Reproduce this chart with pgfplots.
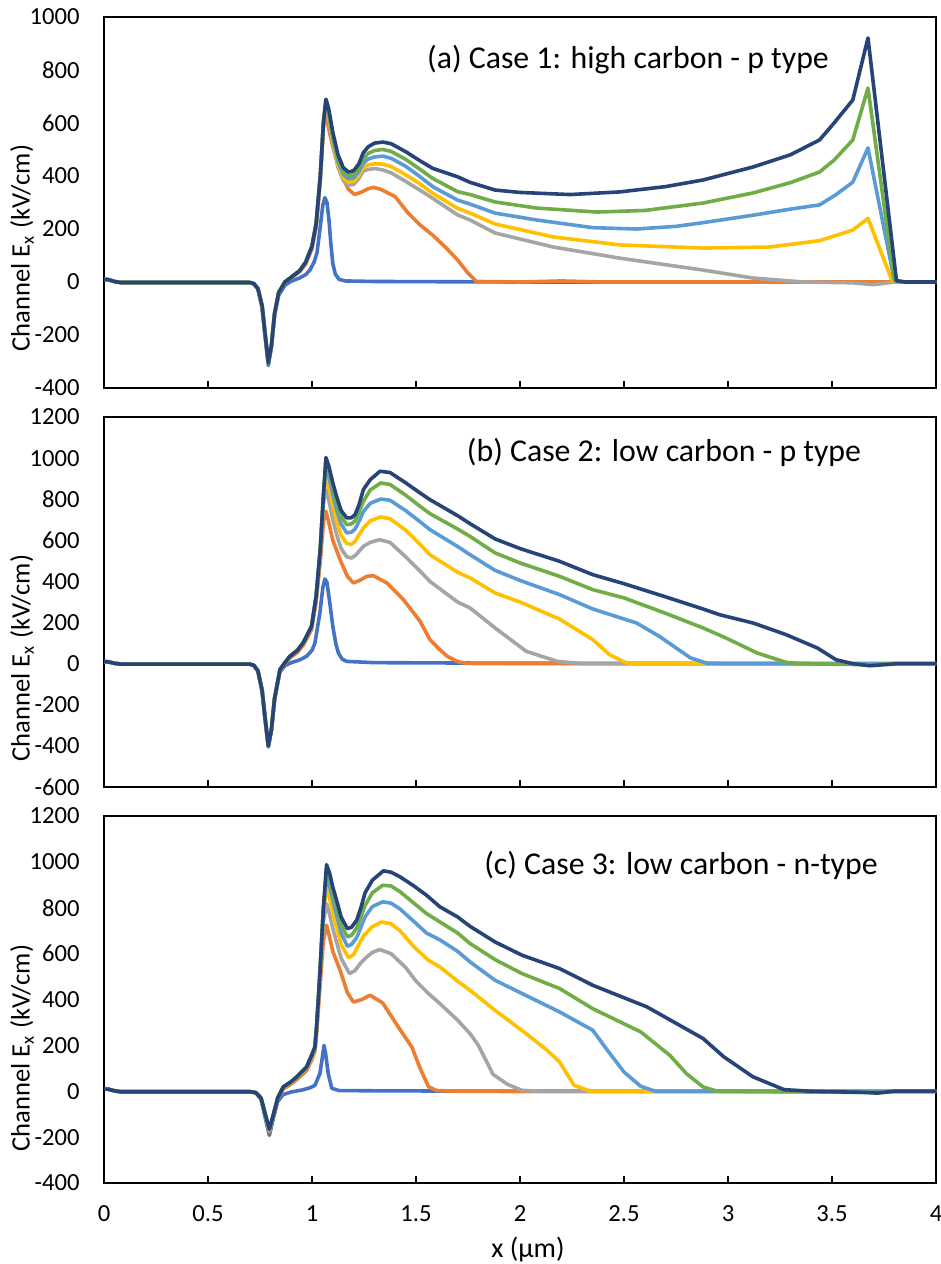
\documentclass[border=0pt]{standalone}
\usepackage{fontspec}
\setmainfont{Carlito}
\usepackage{pgfplots}
\pgfplotsset{compat=1.18}
\definecolor{cBlue}{HTML}{4472C4}
\definecolor{cOrange}{HTML}{ED7D31}
\definecolor{cGray}{HTML}{A5A5A5}
\definecolor{cYellow}{HTML}{FFC000}
\definecolor{cLBlue}{HTML}{5B9BD5}
\definecolor{cGreen}{HTML}{70AD47}
\definecolor{cNavy}{HTML}{264478}
\pgfplotsset{
  myax/.style={
    scale only axis, width=416pt,
    xmin=0, xmax=4,
    xtick={0,0.5,1,1.5,2,2.5,3,3.5,4},
    xtick pos=bottom, xtick align=inside,
    major tick length=3.5pt,
    ytick style={draw=none},
    axis line style={line width=0.9pt, black},
    xtick style={line width=0.9pt, black},
    ticklabel style={font=\fontsize{12.3}{14}\selectfont},
    yticklabel style={inner sep=0pt, xshift=-12pt},
    xticklabel style={inner sep=0pt, yshift=-11pt},
    /pgf/number format/assume math mode=true,
    /pgf/number format/1000 sep={},
    every axis plot/.append style={line width=1.8pt, line join=round, mark=none},
  },
}
\begin{document}
\begin{tikzpicture}
\useasboundingbox (0,0) rectangle (470.5pt,-632pt);
% ---------------- (a) ----------------
\begin{axis}[myax, at={(52pt,-8.5pt)}, anchor=north west, height=185.5pt,
  ymin=-400, ymax=1000, ytick={-400,-200,0,200,400,600,800,1000}, xticklabels={}]
\addplot[cBlue] coordinates {(0,10) (0.02,9) (0.05,2) (0.08,-2) (0.7,-2) (0.72,-6) (0.74,-25) (0.76,-95) (0.775,-210) (0.79,-315) (0.805,-245) (0.82,-125) (0.84,-50) (0.87,-12) (0.9,3) (0.94,15) (0.97,28) (0.99,45) (1.01,75) (1.024,110) (1.04,210) (1.052,290) (1.062,318) (1.072,300) (1.082,230) (1.09,150) (1.1,70) (1.112,30) (1.13,10) (1.16,4) (1.3,2) (2,0) (4,0)};
\addplot[cOrange] coordinates {(0,10) (0.02,9) (0.05,2) (0.08,-2) (0.3,-2) (0.7,-2) (0.72,-6) (0.74,-25) (0.76,-90) (0.775,-200) (0.79,-305) (0.805,-240) (0.82,-120) (0.84,-40) (0.87,0) (0.9,15) (0.94,38) (0.97,68) (1.0,125) (1.02,205) (1.04,380) (1.055,580) (1.067,655) (1.08,580) (1.1,510) (1.12,455) (1.15,390) (1.175,350) (1.205,330) (1.24,340) (1.27,352) (1.295,357) (1.33,350) (1.4,322) (1.46,262) (1.52,215) (1.55,196) (1.58,177) (1.615,151) (1.65,125) (1.7,83) (1.745,38) (1.79,2) (2.0,0) (2.2,4) (2.4,0) (4,0)};
\addplot[cGray] coordinates {(0,10) (0.02,9) (0.05,2) (0.08,-2) (0.3,-2) (0.7,-2) (0.72,-6) (0.74,-25) (0.76,-90) (0.775,-200) (0.79,-305) (0.805,-240) (0.82,-120) (0.84,-40) (0.87,0) (0.9,18) (0.94,42) (0.97,75) (1.0,135) (1.02,220) (1.04,400) (1.055,600) (1.067,672) (1.08,618) (1.1,522) (1.125,432) (1.15,383) (1.175,366) (1.2,368) (1.225,390) (1.246,418) (1.27,425) (1.3,428) (1.34,423) (1.38,412) (1.45,380) (1.52,346) (1.58,316) (1.7,253) (1.76,234) (1.88,185) (2.16,132) (2.48,90) (2.88,45) (3.12,15) (3.36,0) (3.6,-3) (3.7,-10) (3.8,0) (4,0)};
\addplot[cYellow] coordinates {(0,10) (0.02,9) (0.05,2) (0.08,-2) (0.3,-2) (0.7,-2) (0.72,-6) (0.74,-25) (0.76,-90) (0.775,-200) (0.79,-305) (0.805,-240) (0.82,-120) (0.84,-40) (0.87,0) (0.9,18) (0.94,42) (0.97,75) (1.0,135) (1.02,220) (1.04,400) (1.055,600) (1.067,680) (1.08,628) (1.1,532) (1.125,442) (1.15,393) (1.175,377) (1.2,380) (1.225,402) (1.246,432) (1.27,442) (1.3,446) (1.34,445) (1.38,436) (1.45,405) (1.52,370) (1.58,335) (1.7,278) (1.76,260) (1.88,219) (2.16,170) (2.48,140) (2.88,128) (3.2,132) (3.44,156) (3.6,196) (3.673,240) (3.79,3) (3.85,0) (4,0)};
\addplot[cLBlue] coordinates {(0,10) (0.02,9) (0.05,2) (0.08,-2) (0.3,-2) (0.7,-2) (0.72,-6) (0.74,-25) (0.76,-90) (0.775,-200) (0.79,-305) (0.805,-240) (0.82,-120) (0.84,-40) (0.87,0) (0.9,18) (0.94,42) (0.97,75) (1.0,135) (1.02,220) (1.04,400) (1.055,600) (1.067,685) (1.08,638) (1.1,545) (1.125,455) (1.15,406) (1.175,390) (1.2,393) (1.225,416) (1.246,448) (1.27,464) (1.3,472) (1.34,475) (1.38,467) (1.45,437) (1.52,397) (1.58,360) (1.7,309) (1.76,294) (1.88,260) (2.08,234) (2.35,205) (2.56,200) (2.75,210) (2.88,224) (3.12,252) (3.3,275) (3.44,291) (3.52,330) (3.6,377) (3.673,506) (3.8,5) (3.85,0) (4,0)};
\addplot[cGreen] coordinates {(0,10) (0.02,9) (0.05,2) (0.08,-2) (0.3,-2) (0.7,-2) (0.72,-6) (0.74,-25) (0.76,-90) (0.775,-200) (0.79,-305) (0.805,-240) (0.82,-120) (0.84,-40) (0.87,0) (0.9,18) (0.94,42) (0.97,75) (1.0,135) (1.02,220) (1.04,400) (1.055,600) (1.067,688) (1.08,645) (1.1,555) (1.125,468) (1.15,418) (1.175,402) (1.2,405) (1.225,430) (1.246,465) (1.27,485) (1.3,496) (1.34,500) (1.38,493) (1.45,463) (1.52,425) (1.58,391) (1.7,341) (1.76,330) (1.88,302) (2.08,279) (2.37,264) (2.6,270) (2.88,298) (3.12,336) (3.3,375) (3.44,415) (3.51,460) (3.6,536) (3.673,732) (3.8,5) (3.85,0) (4,0)};
\addplot[cNavy] coordinates {(0,10) (0.02,9) (0.05,2) (0.08,-2) (0.3,-2) (0.7,-2) (0.72,-6) (0.74,-25) (0.76,-90) (0.775,-200) (0.79,-305) (0.805,-240) (0.82,-120) (0.84,-40) (0.87,0) (0.9,18) (0.94,42) (0.97,75) (1.0,135) (1.02,220) (1.04,400) (1.055,600) (1.067,690) (1.08,655) (1.1,565) (1.125,480) (1.15,432) (1.175,415) (1.2,420) (1.225,445) (1.246,487) (1.27,510) (1.3,524) (1.34,528) (1.38,522) (1.45,492) (1.52,457) (1.58,429) (1.7,397) (1.76,376) (1.88,347) (2.0,338) (2.24,330) (2.48,340) (2.7,360) (2.88,385) (3.12,434) (3.3,480) (3.44,536) (3.51,600) (3.6,687) (3.673,921) (3.81,5) (3.85,0) (4,0)};
\end{axis}
% ---------------- (b) ----------------
\begin{axis}[myax, at={(52pt,-208.5pt)}, anchor=north west, height=185pt,
  ymin=-600, ymax=1200, ytick={-600,-400,-200,0,200,400,600,800,1000,1200}, xticklabels={}]
\addplot[cBlue] coordinates {(0,10) (0.02,9) (0.05,2) (0.08,-2) (0.7,-2) (0.72,-8) (0.74,-35) (0.76,-130) (0.775,-275) (0.79,-405) (0.805,-325) (0.82,-175) (0.846,-40) (0.87,-10) (0.9,5) (0.94,18) (0.974,36) (1.0,65) (1.014,100) (1.038,247) (1.052,370) (1.062,412) (1.072,395) (1.085,300) (1.1,182) (1.115,95) (1.127,52) (1.145,22) (1.167,11) (1.3,5) (2,2) (4,0)};
\addplot[cOrange] coordinates {(0,10) (0.02,9) (0.05,2) (0.08,-2) (0.7,-2) (0.72,-8) (0.74,-35) (0.76,-130) (0.775,-270) (0.79,-400) (0.805,-320) (0.82,-170) (0.846,-32) (0.87,0) (0.894,28) (0.93,55) (0.958,90) (0.998,165) (1.02,300) (1.04,500) (1.055,690) (1.067,741) (1.08,690) (1.1,600) (1.135,506) (1.17,425) (1.199,393) (1.23,405) (1.263,425) (1.295,428) (1.36,393) (1.44,311) (1.52,206) (1.567,117) (1.615,68) (1.65,36) (1.7,10) (1.74,2) (1.8,0) (4,0)};
\addplot[cGray] coordinates {(0,10) (0.02,9) (0.05,2) (0.08,-2) (0.7,-2) (0.72,-8) (0.74,-35) (0.76,-130) (0.775,-270) (0.79,-400) (0.805,-320) (0.82,-170) (0.846,-29) (0.87,5) (0.894,36) (0.93,65) (0.958,102) (0.998,182) (1.02,320) (1.04,540) (1.055,780) (1.067,847) (1.08,800) (1.1,700) (1.118,630) (1.14,560) (1.167,520) (1.19,514) (1.21,528) (1.247,571) (1.28,590) (1.325,603) (1.375,590) (1.45,520) (1.52,450) (1.567,400) (1.7,300) (1.76,271) (1.79,247) (1.88,174) (2.03,60) (2.18,11) (2.3,0) (4,0)};
\addplot[cYellow] coordinates {(0,10) (0.02,9) (0.05,2) (0.08,-2) (0.7,-2) (0.72,-8) (0.74,-35) (0.76,-130) (0.775,-270) (0.79,-400) (0.805,-320) (0.82,-170) (0.846,-29) (0.87,5) (0.894,36) (0.93,65) (0.958,102) (0.998,182) (1.02,325) (1.04,550) (1.055,800) (1.067,912) (1.08,865) (1.1,770) (1.118,695) (1.14,625) (1.167,585) (1.19,580) (1.207,595) (1.225,625) (1.247,660) (1.28,695) (1.33,714) (1.375,705) (1.45,650) (1.52,580) (1.567,530) (1.7,445) (1.76,417) (1.88,344) (2.0,300) (2.19,217) (2.35,117) (2.43,44) (2.51,4) (2.6,0) (4,0)};
\addplot[cLBlue] coordinates {(0,10) (0.02,9) (0.05,2) (0.08,-2) (0.7,-2) (0.72,-8) (0.74,-35) (0.76,-130) (0.775,-270) (0.79,-400) (0.805,-320) (0.82,-170) (0.846,-29) (0.87,5) (0.894,36) (0.93,65) (0.958,102) (0.998,182) (1.02,328) (1.04,560) (1.055,815) (1.067,960) (1.08,915) (1.1,825) (1.118,750) (1.14,680) (1.167,636) (1.19,640) (1.207,655) (1.225,690) (1.247,740) (1.28,780) (1.33,801) (1.375,795) (1.45,745) (1.52,690) (1.567,652) (1.7,570) (1.76,530) (1.88,454) (2.0,405) (2.19,336) (2.35,266) (2.56,198) (2.67,133) (2.82,28) (2.9,2) (3.0,0) (4,0)};
\addplot[cGreen] coordinates {(0,10) (0.02,9) (0.05,2) (0.08,-2) (0.7,-2) (0.72,-8) (0.74,-35) (0.76,-130) (0.775,-270) (0.79,-400) (0.805,-320) (0.82,-170) (0.846,-29) (0.87,5) (0.894,36) (0.93,65) (0.958,102) (0.998,182) (1.02,328) (1.04,560) (1.055,820) (1.067,990) (1.08,950) (1.1,860) (1.118,785) (1.14,715) (1.167,676) (1.19,680) (1.207,695) (1.225,735) (1.247,790) (1.28,845) (1.33,879) (1.375,872) (1.45,820) (1.52,765) (1.567,730) (1.7,655) (1.76,619) (1.88,539) (2.0,490) (2.19,425) (2.35,360) (2.5,320) (2.7,245) (2.88,174) (2.99,125) (3.14,52) (3.28,6) (3.35,0) (3.68,-5) (3.8,0) (4,0)};
\addplot[cNavy] coordinates {(0,10) (0.02,9) (0.05,2) (0.08,-2) (0.7,-2) (0.72,-8) (0.74,-35) (0.76,-130) (0.775,-270) (0.79,-400) (0.805,-320) (0.82,-170) (0.846,-29) (0.87,5) (0.894,36) (0.93,65) (0.958,102) (0.998,182) (1.02,328) (1.04,560) (1.055,820) (1.067,1003) (1.08,965) (1.1,880) (1.118,814) (1.14,745) (1.167,709) (1.19,710) (1.207,725) (1.225,770) (1.247,847) (1.28,895) (1.327,936) (1.375,930) (1.45,880) (1.52,830) (1.567,798) (1.7,720) (1.76,681) (1.88,607) (2.0,560) (2.19,498) (2.35,433) (2.5,389) (2.7,325) (2.88,266) (2.96,238) (3.12,198) (3.28,141) (3.43,76) (3.52,19) (3.6,0) (3.68,-10) (3.78,-3) (3.81,0) (4,0)};
\end{axis}
% ---------------- (c) ----------------
\begin{axis}[myax, at={(52pt,-408pt)}, anchor=north west, height=183.5pt,
  ymin=-400, ymax=1200, ytick={-400,-200,0,200,400,600,800,1000,1200}]
\addplot[cBlue] coordinates {(0,10) (0.02,9) (0.05,2) (0.08,-2) (0.7,-2) (0.73,-6) (0.755,-35) (0.775,-115) (0.795,-192) (0.815,-115) (0.835,-45) (0.86,-15) (0.9,-3) (0.95,5) (0.99,15) (1.014,26) (1.038,77) (1.05,150) (1.058,200) (1.066,160) (1.078,77) (1.095,13) (1.13,3) (1.3,2) (2,0) (4,0)};
\addplot[cOrange] coordinates {(0,10) (0.02,9) (0.05,2) (0.08,-2) (0.7,-2) (0.73,-6) (0.755,-30) (0.775,-105) (0.795,-178) (0.815,-105) (0.835,-35) (0.862,10) (0.9,32) (0.926,50) (0.974,90) (1.0,140) (1.014,175) (1.022,250) (1.038,450) (1.055,660) (1.07,724) (1.085,670) (1.1,610) (1.135,528) (1.17,430) (1.199,389) (1.24,400) (1.279,419) (1.34,385) (1.415,280) (1.48,193) (1.52,100) (1.56,20) (1.6,3) (1.7,0) (4,0)};
\addplot[cGray] coordinates {(0,10) (0.02,9) (0.05,2) (0.08,-2) (0.7,-2) (0.73,-6) (0.755,-30) (0.775,-100) (0.795,-172) (0.815,-100) (0.835,-30) (0.862,15) (0.9,38) (0.926,58) (0.974,100) (1.0,150) (1.014,185) (1.022,270) (1.038,490) (1.055,740) (1.07,818) (1.085,770) (1.1,710) (1.118,650) (1.14,580) (1.18,513) (1.205,525) (1.235,560) (1.255,579) (1.29,605) (1.325,618) (1.38,600) (1.45,540) (1.5,480) (1.56,426) (1.615,382) (1.7,310) (1.76,251) (1.8,200) (1.87,74) (1.94,30) (2.01,4) (2.1,0) (4,0)};
\addplot[cYellow] coordinates {(0,10) (0.02,9) (0.05,2) (0.08,-2) (0.7,-2) (0.73,-6) (0.755,-30) (0.775,-100) (0.795,-170) (0.815,-100) (0.835,-30) (0.862,18) (0.9,40) (0.926,60) (0.974,104) (1.0,155) (1.014,190) (1.022,275) (1.038,505) (1.055,780) (1.07,890) (1.085,840) (1.1,780) (1.118,715) (1.14,640) (1.175,583) (1.2,595) (1.225,640) (1.25,680) (1.29,718) (1.335,738) (1.38,730) (1.423,700) (1.49,630) (1.56,571) (1.615,542) (1.7,480) (1.76,440) (1.88,353) (2.03,251) (2.13,179) (2.19,128) (2.26,26) (2.34,0) (4,0)};
\addplot[cLBlue] coordinates {(0,10) (0.02,9) (0.05,2) (0.08,-2) (0.7,-2) (0.73,-6) (0.755,-30) (0.775,-100) (0.795,-168) (0.815,-100) (0.835,-30) (0.862,19) (0.9,42) (0.926,62) (0.974,106) (1.0,160) (1.014,193) (1.022,280) (1.038,513) (1.055,800) (1.07,940) (1.085,895) (1.1,835) (1.118,770) (1.14,690) (1.17,632) (1.19,640) (1.215,670) (1.235,715) (1.255,760) (1.29,805) (1.34,826) (1.38,820) (1.423,795) (1.49,740) (1.55,690) (1.615,660) (1.7,610) (1.76,564) (1.88,484) (2.01,426) (2.19,346) (2.35,266) (2.42,179) (2.5,84) (2.58,22) (2.65,0) (4,0)};
\addplot[cGreen] coordinates {(0,10) (0.02,9) (0.05,2) (0.08,-2) (0.7,-2) (0.73,-6) (0.755,-30) (0.775,-100) (0.795,-168) (0.815,-100) (0.835,-30) (0.862,19) (0.9,42) (0.926,62) (0.974,106) (1.0,160) (1.014,193) (1.022,280) (1.038,513) (1.055,800) (1.07,970) (1.085,925) (1.1,865) (1.118,805) (1.14,725) (1.17,673) (1.19,680) (1.215,712) (1.235,760) (1.255,810) (1.29,865) (1.34,898) (1.38,895) (1.423,870) (1.49,820) (1.55,775) (1.615,738) (1.7,690) (1.76,644) (1.88,574) (2.01,513) (2.19,448) (2.35,360) (2.58,259) (2.72,157) (2.8,77) (2.88,19) (2.95,0) (3.65,-5) (3.75,-5) (3.8,0) (4,0)};
\addplot[cNavy] coordinates {(0,10) (0.02,9) (0.05,2) (0.08,-2) (0.7,-2) (0.73,-6) (0.755,-30) (0.775,-100) (0.795,-165) (0.815,-100) (0.835,-30) (0.862,19) (0.9,42) (0.926,62) (0.974,106) (1.0,160) (1.014,193) (1.022,280) (1.038,513) (1.055,800) (1.07,988) (1.085,950) (1.1,890) (1.118,833) (1.14,760) (1.17,709) (1.19,715) (1.215,746) (1.235,800) (1.255,865) (1.29,920) (1.343,961) (1.38,955) (1.423,935) (1.49,895) (1.55,855) (1.615,804) (1.7,760) (1.76,719) (1.88,651) (2.01,593) (2.19,535) (2.35,462) (2.61,368) (2.88,230) (2.98,150) (3.12,63) (3.27,7) (3.4,0) (3.65,-5) (3.72,-8) (3.8,0) (4,0)};
\end{axis}
% ---------------- labels ----------------
\node[font=\fontsize{15.9}{18}\selectfont] at (314pt,-30pt) {(a) Case 1: high carbon - p type};
\node[font=\fontsize{15.9}{18}\selectfont] at (332pt,-226pt) {(b) Case 2: low carbon - p type};
\node[font=\fontsize{15.9}{18}\selectfont] at (340.5pt,-432.5pt) {(c) Case 3: low carbon - n-type};
\node[rotate=90, font=\fontsize{13.3}{15}\selectfont] at (11pt,-124pt) {Channel E\textsubscript{x} (kV/cm)};
\node[rotate=90, font=\fontsize{13.3}{15}\selectfont] at (11pt,-329pt) {Channel E\textsubscript{x} (kV/cm)};
\node[rotate=90, font=\fontsize{13.3}{15}\selectfont] at (11pt,-524pt) {Channel E\textsubscript{x} (kV/cm)};
\node[font=\fontsize{14}{16}\selectfont] at (264pt,-625pt) {x (µm)};
\end{tikzpicture}
\end{document}
